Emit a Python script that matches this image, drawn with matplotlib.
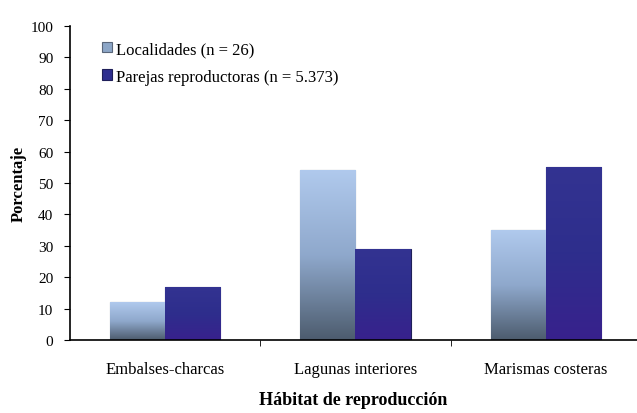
import numpy as np
import matplotlib
matplotlib.use("Agg")
import matplotlib.pyplot as plt
from matplotlib.colors import LinearSegmentedColormap

categories = ["Embalses-charcas", "Lagunas interiores", "Marismas costeras"]
localidades = [12, 54, 35]
parejas = [17, 29, 55]
series_labels = ["Localidades (n = 26)", "Parejas reproductoras (n = 5.373)"]
yticks = list(range(0, 101, 10))

plt.rcParams['font.family'] = ['Liberation Serif', 'DejaVu Serif']

fig = plt.figure(figsize=(6.37, 4.14), dpi=100)
ax = fig.add_axes([0.110, 0.176, 0.890, 0.759])

x = np.arange(len(categories))
w = 0.29
cm_light = LinearSegmentedColormap.from_list("l", [(0.30, 0.36, 0.43), (0.56, 0.66, 0.80), (0.69, 0.79, 0.93)])
cm_dark = LinearSegmentedColormap.from_list("d", [(0.22, 0.13, 0.55), (0.18, 0.18, 0.55), (0.20, 0.20, 0.57)])

b1 = ax.bar(x - w/2, localidades, w, color=(0.55, 0.65, 0.78), edgecolor=(0.35, 0.40, 0.48), linewidth=0.8,
            label=series_labels[0], zorder=2)
b2 = ax.bar(x + w/2, parejas, w, color=(0.18, 0.18, 0.56), edgecolor=(0.12, 0.12, 0.35), linewidth=0.8,
            label=series_labels[1], zorder=2)

grad = np.linspace(0, 1, 256).reshape(-1, 1)
for bars, cmap in ((b1, cm_light), (b2, cm_dark)):
    for r in bars:
        x0, y0 = r.get_x(), r.get_y()
        ww, hh = r.get_width(), r.get_height()
        im = ax.imshow(grad, cmap=cmap, origin='lower', aspect='auto',
                       extent=(x0, x0 + ww, y0, y0 + hh), zorder=2.5, interpolation='bilinear')
        im.set_clip_path(r)

ax.set_xlim(-0.5, 2.48)
ax.set_ylim(0, 100)
ax.set_yticks(yticks)
ax.set_yticklabels([str(t) for t in yticks], fontsize=11)
ax.set_xticks(x)
ax.set_xticklabels(categories, fontsize=12)
ax.tick_params(axis='x', length=0, pad=15)
ax.set_xticks([0.5, 1.5], minor=True)
ax.tick_params(axis='x', which='minor', length=4, direction='out')
ax.tick_params(axis='y', length=4, direction='out', pad=8)
for s in ('top', 'right'):
    ax.spines[s].set_visible(False)
ax.spines['left'].set_linewidth(1.2)
ax.spines['bottom'].set_linewidth(1.2)
ax.set_ylabel("Porcentaje", fontsize=12, fontweight='bold', labelpad=3)
ax.set_xlabel("Hábitat de reproducción", fontsize=13, fontweight='bold', labelpad=10)

ax.legend(loc='upper left', bbox_to_anchor=(0.03, 1.0), frameon=False, fontsize=12,
          handlelength=0.6, handleheight=0.6, handletextpad=0.25, labelspacing=0.7)

fig.savefig("out.png", dpi=100)
